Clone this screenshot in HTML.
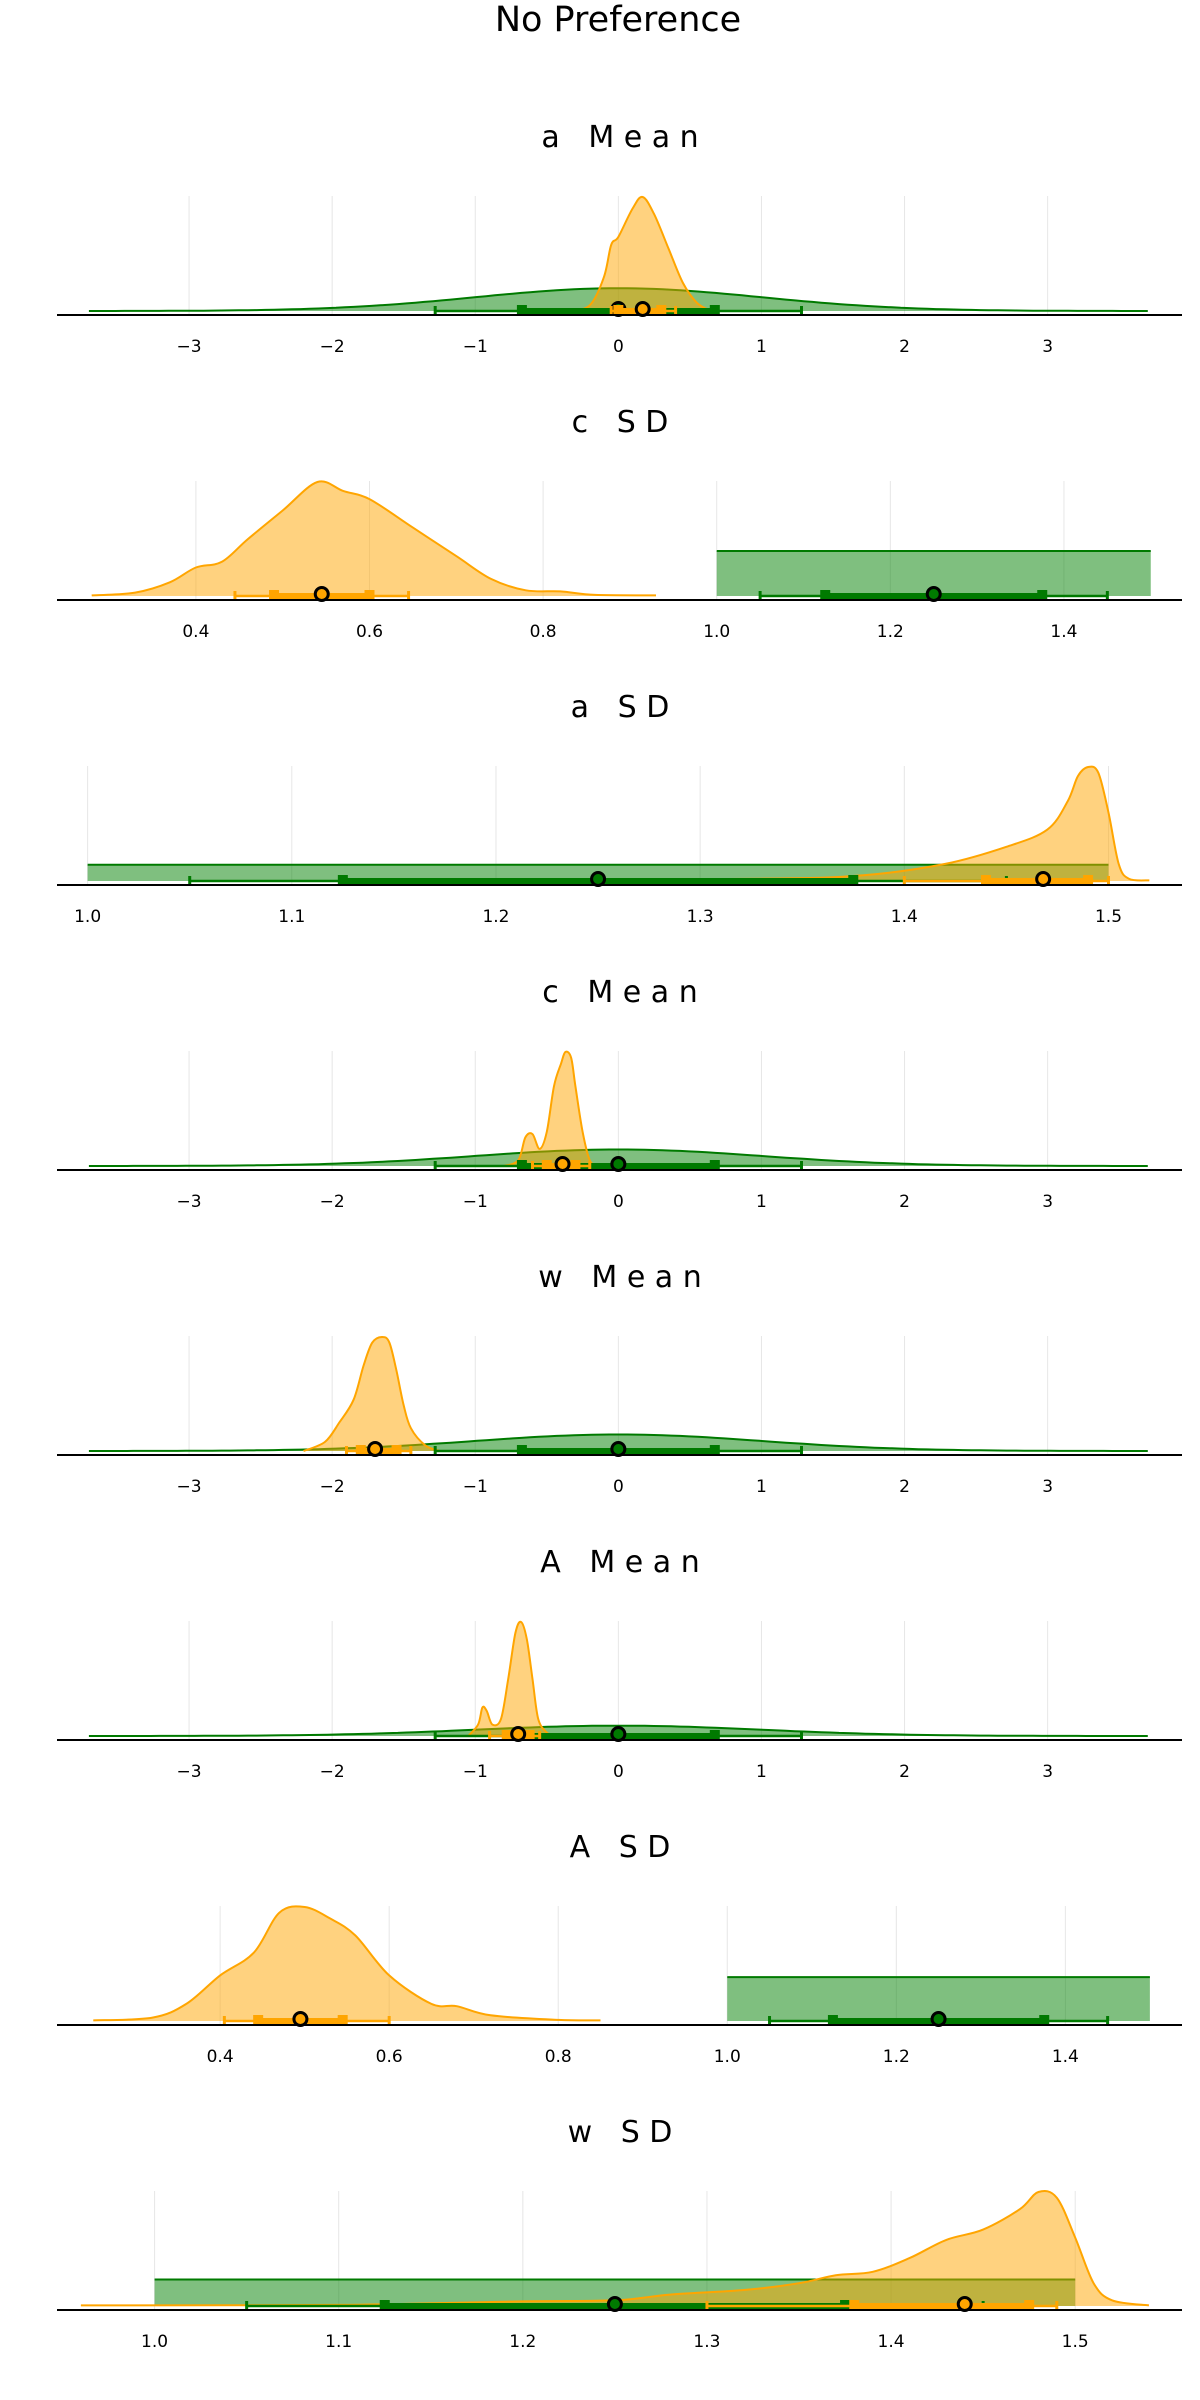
<!DOCTYPE html>
<html><head><meta charset="utf-8"><style>
body{margin:0;background:#fff}
svg{display:block;font-family:"DejaVu Sans","Liberation Sans",sans-serif}
text{white-space:pre}
</style></head><body>
<svg id="chart" width="1200" height="2400" viewBox="0 0 1200 2400">
<text x="618" y="31" font-size="35" text-anchor="middle">No Preference</text>
</svg>
<script>
// ---- data ----
const panelTitles = ["a   M e a n","c   S D","a   S D","c   M e a n","w   M e a n","A   M e a n","A   S D","w   S D"];
const panelDomains = [[-3.923,3.939],[0.240,1.536],[0.985,1.536],[-3.923,3.939],[-3.923,3.939],[-3.923,3.939],[0.207,1.538],[0.947,1.558]];
const panelTicks = [[-3,-2,-1,0,1,2,3],[0.4,0.6,0.8,1.0,1.2,1.4],[1.0,1.1,1.2,1.3,1.4,1.5],[-3,-2,-1,0,1,2,3],[-3,-2,-1,0,1,2,3],[-3,-2,-1,0,1,2,3],[0.4,0.6,0.8,1.0,1.2,1.4],[1.0,1.1,1.2,1.3,1.4,1.5]];
const tickLabels = [["−3","−2","−1","0","1","2","3"],["0.4","0.6","0.8","1.0","1.2","1.4"],["1.0","1.1","1.2","1.3","1.4","1.5"],["−3","−2","−1","0","1","2","3"],["−3","−2","−1","0","1","2","3"],["−3","−2","−1","0","1","2","3"],["0.4","0.6","0.8","1.0","1.2","1.4"],["1.0","1.1","1.2","1.3","1.4","1.5"]];
const priorType = ["normal","uniform","uniform","normal","normal","normal","uniform","uniform"];
const priorParamA = [0,1.0,1.0,0,0,0,1.0,1.0];
const priorParamB = [1,1.5,1.5,1,1,1,1.5,1.5];
const priorPoint = [0,1.25,1.25,0,0,0,1.25,1.25];
const priorInner = [[-0.674,0.674],[1.125,1.375],[1.125,1.375],[-0.674,0.674],[-0.674,0.674],[-0.674,0.674],[1.125,1.375],[1.125,1.375]];
const priorOuter = [[-1.28,1.28],[1.05,1.45],[1.05,1.45],[-1.28,1.28],[-1.28,1.28],[-1.28,1.28],[1.05,1.45],[1.05,1.45]];
const postPeak = [2.0,5.07,14.0,2.75,2.75,4.4,5.2,8.6];
const postX = [
 [-0.35,-0.2,-0.1,-0.05,0.0,0.1,0.17,0.25,0.35,0.45,0.55,0.65],
 [0.28,0.33,0.37,0.4,0.43,0.46,0.5,0.54,0.57,0.6,0.65,0.7,0.74,0.78,0.82,0.86,0.93],
 [1.2,1.33,1.38,1.42,1.45,1.47,1.48,1.485,1.49,1.495,1.5,1.505,1.51,1.52],
 [-0.8,-0.7,-0.65,-0.6,-0.55,-0.5,-0.45,-0.4,-0.37,-0.33,-0.3,-0.25,-0.2,-0.15],
 [-2.2,-2.05,-1.95,-1.85,-1.78,-1.72,-1.65,-1.6,-1.55,-1.5,-1.45,-1.35,-1.25],
 [-1.05,-0.98,-0.95,-0.92,-0.88,-0.82,-0.77,-0.72,-0.68,-0.64,-0.6,-0.56,-0.5,-0.45],
 [0.25,0.32,0.36,0.4,0.44,0.47,0.5,0.53,0.56,0.6,0.65,0.68,0.72,0.8,0.85],
 [0.96,1.1,1.2,1.25,1.28,1.32,1.35,1.37,1.39,1.41,1.43,1.45,1.47,1.48,1.49,1.5,1.51,1.52,1.54]];
const postY = [
 [0,0.05,0.3,0.58,0.65,0.9,1.0,0.85,0.55,0.25,0.07,0],
 [0.005,0.03,0.12,0.25,0.3,0.5,0.75,1.0,0.92,0.85,0.6,0.35,0.15,0.05,0.04,0.01,0.005],
 [0.005,0.02,0.05,0.15,0.3,0.45,0.7,0.92,1.0,0.95,0.6,0.15,0.02,0.005],
 [0,0.05,0.25,0.28,0.15,0.3,0.7,0.9,1.0,0.95,0.7,0.3,0.05,0],
 [0,0.08,0.25,0.45,0.75,0.95,1.0,0.95,0.7,0.4,0.2,0.05,0],
 [0,0.1,0.25,0.22,0.1,0.15,0.5,0.9,1.0,0.85,0.5,0.15,0.03,0],
 [0.005,0.03,0.15,0.4,0.6,0.95,1.0,0.9,0.75,0.4,0.15,0.13,0.05,0.01,0.005],
 [0.005,0.01,0.04,0.05,0.1,0.14,0.2,0.27,0.3,0.42,0.58,0.67,0.85,1.0,0.95,0.6,0.2,0.05,0.005]];
const postPoint = [0.17,0.545,1.468,-0.39,-1.7,-0.7,0.495,1.44];
const postInner = [[0.0,0.3],[0.49,0.6],[1.44,1.49],[-0.5,-0.3],[-1.8,-1.55],[-0.78,-0.62],[0.445,0.545],[1.38,1.475]];
const postOuter = [[-0.05,0.4],[0.445,0.645],[1.40,1.50],[-0.6,-0.2],[-1.9,-1.45],[-0.9,-0.55],[0.405,0.6],[1.3,1.49]];

// ---- drawing ----
const svg=document.getElementById('chart');
const NS='http://www.w3.org/2000/svg';
function mk(tag,attrs,parent){const e=document.createElementNS(NS,tag);for(const k in attrs)e.setAttribute(k,attrs[k]);(parent||svg).appendChild(e);return e;}
const X0=57,X1=1182,PH=285,PLOT_H=118;
function smooth(P){ // catmull-rom to bezier
  let d='M'+P[0][0].toFixed(1)+','+P[0][1].toFixed(1);
  for(let k=0;k<P.length-1;k++){
    const p0=P[k-1]||P[k],p1=P[k],p2=P[k+1],p3=P[k+2]||P[k+1];
    const c1=[p1[0]+(p2[0]-p0[0])/6,p1[1]+(p2[1]-p0[1])/6];
    const c2=[p2[0]-(p3[0]-p1[0])/6,p2[1]-(p3[1]-p1[1])/6];
    d+=` C${c1[0].toFixed(1)},${c1[1].toFixed(1)} ${c2[0].toFixed(1)},${c2[1].toFixed(1)} ${p2[0].toFixed(1)},${p2[1].toFixed(1)}`;
  }
  return d;
}
panelTitles.forEach((t,i)=>{
  const g=mk('g',{});
  
  
  const off=PH*i, axisY=315+off, topY=196+off;
  const d=panelDomains[i];
  const sx=v=>X0+(v-d[0])/(d[1]-d[0])*(X1-X0);
  let pdfMax;
  if(priorType[i]==='normal'){pdfMax=1/(priorParamB[i]*Math.sqrt(2*Math.PI));}else{pdfMax=1/(priorParamB[i]-priorParamA[i]);}
  const yMax=Math.max(postPeak[i],pdfMax);
  const sy=v=>axisY-4-v/yMax*(PLOT_H-4);
  const title=mk('text',{x:620,y:147+off,'font-size':30,'text-anchor':'middle'},g);
  title.textContent=t;
  
  
  panelTicks[i].forEach((tv,j)=>{
    const gl=mk('line',{x1:sx(tv),x2:sx(tv),y1:topY,y2:axisY,stroke:'#e6e6e6','stroke-width':1},g);
    
    
    const tl=mk('text',{x:sx(tv),y:352+off,'font-size':17,'text-anchor':'middle'},g);
    tl.textContent=tickLabels[i][j];
    
    
  });
  // prior
  let pp,priorLine;
  if(priorType[i]==='normal'){
    const mu=priorParamA[i],s=priorParamB[i];const pts=[];
    for(let k=0;k<=120;k++){const x=-3.7+7.4*k/120;const y=Math.exp(-0.5*((x-mu)/s)**2)/(s*Math.sqrt(2*Math.PI));pts.push(sx(x).toFixed(1)+','+sy(y).toFixed(1));}
    pp='M'+sx(-3.7)+','+sy(0)+' L'+pts.join(' L')+' L'+sx(3.7)+','+sy(0)+' Z';
    priorLine='M'+pts.join(' L');
  } else {
    const a=priorParamA[i],b=priorParamB[i];
    pp=`M${sx(a)},${sy(0)} L${sx(a)},${sy(pdfMax)} L${sx(b)},${sy(pdfMax)} L${sx(b)},${sy(0)} Z`;
    priorLine=`M${sx(a)},${sy(pdfMax)} L${sx(b)},${sy(pdfMax)}`;
  }
  const pf=mk('path',{d:pp,fill:'rgba(0,128,0,0.5)',stroke:'none'},g);
  
  
  const pl=mk('path',{d:priorLine,fill:'none',stroke:'#007a00','stroke-width':2},g);
  
  
  // posterior
  const xs=postX[i],ys=postY[i];
  const P=xs.map((x,k)=>[sx(x),sy(ys[k]*postPeak[i])]);
  const curve=smooth(P);
  const op=mk('path',{d:curve+` L${sx(xs[xs.length-1]).toFixed(1)},${sy(0)} L${sx(xs[0]).toFixed(1)},${sy(0)} Z`,fill:'rgba(255,165,0,0.5)',stroke:'none'},g);
  
  
  const ol=mk('path',{d:curve,fill:'none',stroke:'#ffa500','stroke-width':2,'stroke-linejoin':'round'},g);
  
  
  // intervals
  function interval(pt,inner,outer,col,name){
    const y=axisY-4;
    const ig=mk('g',{},g);
    
    
    mk('line',{x1:sx(outer[0]),x2:sx(outer[1]),y1:y,y2:y,stroke:col,'stroke-width':2.5},ig);
    [outer[0],outer[1]].forEach(v=>mk('line',{x1:sx(v),x2:sx(v),y1:y-5,y2:y+4,stroke:col,'stroke-width':3},ig));
    mk('line',{x1:sx(inner[0]),x2:sx(inner[1]),y1:y,y2:y,stroke:col,'stroke-width':6},ig);
    [inner[0],inner[1]].forEach(v=>mk('rect',{x:sx(v)-5,y:y-6,width:10,height:10,fill:col},ig));
    mk('circle',{cx:sx(pt),cy:y-2,r:6.5,fill:col,stroke:'#000','stroke-width':3},ig);
  }
  interval(priorPoint[i],priorInner[i],priorOuter[i],'#007a00','prior-interval');
  interval(postPoint[i],postInner[i],postOuter[i],'#ffa500','posterior-interval');
  const ax=mk('line',{x1:X0,x2:X1,y1:axisY,y2:axisY,stroke:'#000','stroke-width':2},g);
  
  
});
</script>
</body></html>
